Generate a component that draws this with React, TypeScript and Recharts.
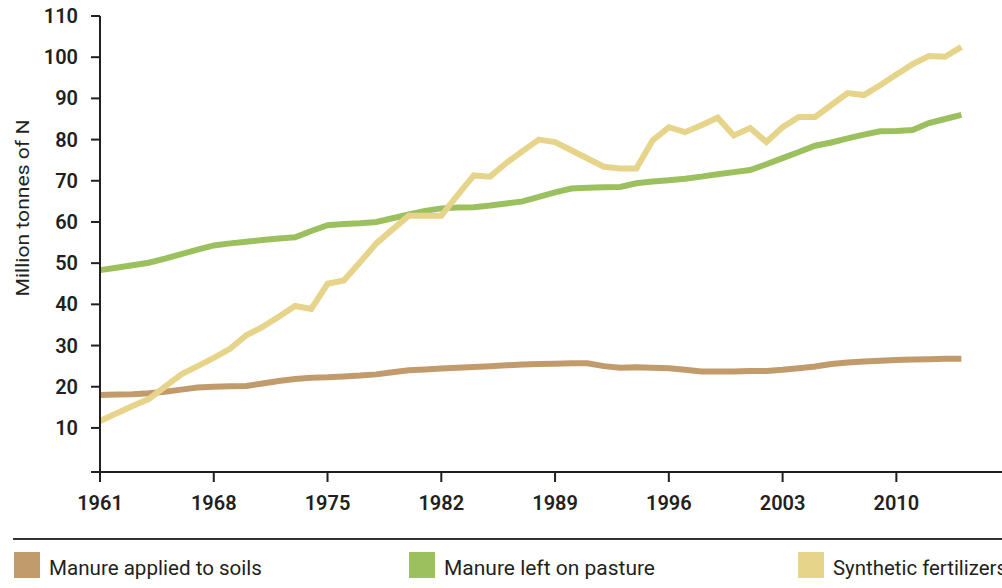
import React from 'react';
import { LineChart, Line, XAxis, YAxis, Legend, Label } from 'recharts';

const years = [
  1961, 1962, 1963, 1964, 1965, 1966, 1967, 1968, 1969, 1970,
  1971, 1972, 1973, 1974, 1975, 1976, 1977, 1978, 1979, 1980,
  1981, 1982, 1983, 1984, 1985, 1986, 1987, 1988, 1989, 1990,
  1991, 1992, 1993, 1994, 1995, 1996, 1997, 1998, 1999, 2000,
  2001, 2002, 2003, 2004, 2005, 2006, 2007, 2008, 2009, 2010,
  2011, 2012, 2013, 2014,
];

const manureSoils = [
  18.0, 18.1, 18.2, 18.4, 18.8, 19.3, 19.8, 20.0, 20.1, 20.2,
  20.8, 21.4, 21.9, 22.2, 22.3, 22.5, 22.7, 23.0, 23.5, 24.0,
  24.2, 24.4, 24.6, 24.8, 25.0, 25.2, 25.4, 25.5, 25.6, 25.7,
  25.7, 25.0, 24.6, 24.7, 24.6, 24.5, 24.1, 23.7, 23.7, 23.7,
  23.8, 23.8, 24.1, 24.5, 24.9, 25.5, 25.9, 26.1, 26.3, 26.5,
  26.6, 26.7, 26.8, 26.8,
];

const manurePasture = [
  48.3, 48.9, 49.5, 50.1, 51.1, 52.2, 53.3, 54.3, 54.8, 55.2,
  55.6, 56.0, 56.3, 57.8, 59.2, 59.5, 59.7, 60.0, 60.9, 61.8,
  62.7, 63.3, 63.5, 63.6, 64.0, 64.5, 65.0, 66.1, 67.2, 68.1,
  68.3, 68.4, 68.5, 69.4, 69.8, 70.1, 70.5, 71.0, 71.6, 72.1,
  72.6, 74.0, 75.5, 77.0, 78.5, 79.3, 80.3, 81.2, 82.0, 82.1,
  82.3, 84.0, 85.0, 86.0,
];

const syntheticFertilizers = [
  11.7, 13.5, 15.3, 17.0, 20.0, 23.0, 25.0, 27.0, 29.2, 32.5,
  34.5, 37.0, 39.6, 38.9, 45.0, 45.8, 50.2, 54.8, 58.2, 61.5,
  61.5, 61.5, 66.5, 71.3, 71.0, 74.3, 77.2, 80.0, 79.4, 77.4,
  75.4, 73.4, 73.0, 73.0, 79.8, 83.0, 81.8, 83.5, 85.3, 81.0,
  82.8, 79.4, 83.0, 85.5, 85.5, 88.4, 91.3, 90.8, 93.2, 95.8,
  98.3, 100.3, 100.1, 102.5,
];

const xTicks = [1961, 1968, 1975, 1982, 1989, 1996, 2003, 2010];
const yTicks = [10, 20, 30, 40, 50, 60, 70, 80, 90, 100, 110];
const Y_MIN = -0.7;

const series = [
  { key: 'soils', name: 'Manure applied to soils', color: '#C29B6C', legendX: 14, textLen: 213 },
  { key: 'pasture', name: 'Manure left on pasture', color: '#9CC05E', legendX: 409, textLen: 211 },
  { key: 'synthetic', name: 'Synthetic fertilizers', color: '#E6D48A', legendX: 798, textLen: 174 },
];

const data = years.map((year, i) => ({
  year,
  soils: manureSoils[i],
  pasture: manurePasture[i],
  synthetic: syntheticFertilizers[i],
}));

const INK = '#231f20';
const FONT = 'Roboto, "Open Sans", sans-serif';

const renderLegend = () => (
  <svg width={1002} height={58} style={{ display: 'block' }}>
    <line x1={13} y1={9} x2={1002} y2={9} stroke="#333" strokeWidth={2} />
    {series.map((s) => (
      <g key={s.key}>
        <rect x={s.legendX} y={22} width={26} height={26} fill={s.color} />
        <text
          x={s.legendX + 35}
          y={45}
          fontFamily={FONT}
          fontSize={21}
          fill={INK}
          textLength={s.textLen}
          lengthAdjust="spacingAndGlyphs"
        >
          {s.name}
        </text>
      </g>
    ))}
  </svg>
);

export default function App() {
  return (
    <div style={{ position: 'absolute', left: 0, top: 0, width: 1002, height: 588, background: '#fff' }}>
      <LineChart width={1002} height={588} data={data} margin={{ top: 16, right: 0, bottom: 66, left: 0 }}>
        <XAxis
          dataKey="year"
          type="number"
          domain={[1961, 2016.5]}
          ticks={xTicks}
          height={50}
          tickSize={10}
          tickMargin={14}
          axisLine={{ stroke: INK, strokeWidth: 2 }}
          tickLine={{ stroke: INK, strokeWidth: 2 }}
          tick={{ fill: INK, fontSize: 20, fontWeight: 600, fontFamily: FONT }}
        />
        <YAxis
          type="number"
          domain={[Y_MIN, 110]}
          ticks={[Y_MIN, ...yTicks]}
          tickFormatter={(v: number) => (v < 5 ? '' : String(v))}
          width={100}
          tickSize={9}
          tickMargin={13}
          axisLine={{ stroke: INK, strokeWidth: 2 }}
          tickLine={{ stroke: INK, strokeWidth: 2 }}
          tick={{ fill: INK, fontSize: 20, fontWeight: 600, fontFamily: FONT }}
        >
          <Label
            position="insideLeft"
            content={() => (
              <text
                x={22}
                y={208}
                transform="rotate(-90 22 208)"
                textAnchor="middle"
                dominantBaseline="central"
                fontFamily={FONT}
                fontSize={18}
                fill={INK}
                textLength={177}
                lengthAdjust="spacingAndGlyphs"
              >
                Million tonnes of N
              </text>
            )}
          />
        </YAxis>
        {series.map((s) => (
          <Line
            key={s.key}
            dataKey={s.key}
            name={s.name}
            type="linear"
            stroke={s.color}
            strokeWidth={6}
            dot={false}
            activeDot={false}
            isAnimationActive={false}
          />
        ))}
        <Legend
          layout="vertical"
          align="center"
          verticalAlign="middle"
          wrapperStyle={{ position: 'absolute', left: 0, top: 530, width: 1002, height: 58 }}
          content={renderLegend}
        />
      </LineChart>
    </div>
  );
}
